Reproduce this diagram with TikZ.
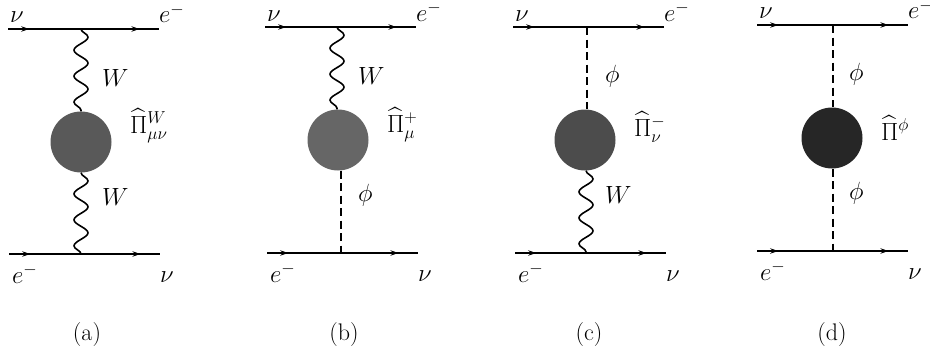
\documentclass[tikz,border=0pt]{standalone}
\usepackage{amsmath}
\usetikzlibrary{arrows.meta, decorations.pathmorphing, decorations.markings}

\begin{document}
\begin{tikzpicture}[
  x=1pt, y=-1pt,
  lbl/.style = {font=\fontsize{24}{26}\selectfont, inner sep=0pt},
  fermion/.style = {line width=1.5pt, postaction={decorate}, decoration={markings,
    mark=at position 0.14 with {\arrow{Stealth[length=8pt,width=5.5pt]}},
    mark=at position 0.87 with {\arrow{Stealth[length=8pt,width=5.5pt]}}}},
  wboson/.style = {line width=1.6pt, decorate, decoration={snake, segment length=26pt, amplitude=7pt}},
  scalar/.style = {line width=1.3pt, dash pattern=on 8pt off 4.5pt},
  blob/.style = {circle, minimum size=61pt, inner sep=0pt}
]
  \useasboundingbox (0,0) rectangle (930,356);

  % four diagrams, one row of values for each
  \foreach \xl/\ytop/\xlb/\ybot/\xb/\yb/\xvt/\xvb/\xn/\ysel/\xtag/\upstyle/\lowstyle/\blobk/\selfen/\dname/\upname/\lowname in {
    8/29/9/254/81/142/81/81/102/133/87/wboson/wboson/65/{\widehat{\Pi}^{W}_{\mu\nu}}/a/W/W,
    265/27/267/253/338/140/337/341/358/132/344/wboson/scalar/60/{\widehat{\Pi}^{+}_{\mu}}/b/W/\phi,
    513/27/515/253/585/140/587/586/605/136/589/scalar/wboson/70/{\widehat{\Pi}^{-}_{\nu}}/c/\phi/W,
    757/25/757/251/832/138/833/833/849/140/832/scalar/scalar/85/{\widehat{\Pi}^{\phi}}/d/\phi/\phi
  }{
    \node[blob, fill=black!\blobk] (blob\dname) at (\xb,\yb) {};
    \coordinate (tl\dname) at (\xl,\ytop);
    \coordinate (tr\dname) at (\xl+151,\ytop);
    \coordinate (tv\dname) at (\xvt,\ytop);
    \coordinate (bl\dname) at (\xlb,\ybot);
    \coordinate (br\dname) at (\xlb+151,\ybot);
    \coordinate (bv\dname) at (\xvb,\ybot);
    \draw[fermion] (tl\dname) -- (tr\dname);
    \draw[fermion] (bl\dname) -- (br\dname);
    \draw[\upstyle] (tv\dname) -- (tv\dname |- blob\dname.north);
    \draw[\lowstyle] (bv\dname |- blob\dname.south) -- (bv\dname);

    \node[lbl, anchor=base] (nul\dname) at (\xl+9,\ytop-6) {$\nu$};
    \node[lbl, anchor=base west] (eup\dname) at (\xl+151,\ytop-6) {$e\smash{\raisebox{9pt}{$\scriptstyle-$}}$};
    \node[lbl, anchor=base west] (edn\dname) at (\xlb+3,\ybot+29) {$e\smash{\raisebox{9pt}{$\scriptstyle-$}}$};
    \node[lbl, anchor=base] (nur\dname) at (\xlb+158,\ybot+28) {$\nu$};
    \node[lbl, anchor=west] (up\dname) at (\xn,\yb-64) {$\upname$};
    \node[lbl, anchor=west] (low\dname) at (\xn,\yb+55) {$\lowname$};
    \node[lbl, anchor=base west] (self\dname) at (\xb+49,\ysel) {$\selfen$};
    \node[lbl] (tag\dname) at (\xtag,335) {(\dname)};
  }
\end{tikzpicture}
\end{document}
